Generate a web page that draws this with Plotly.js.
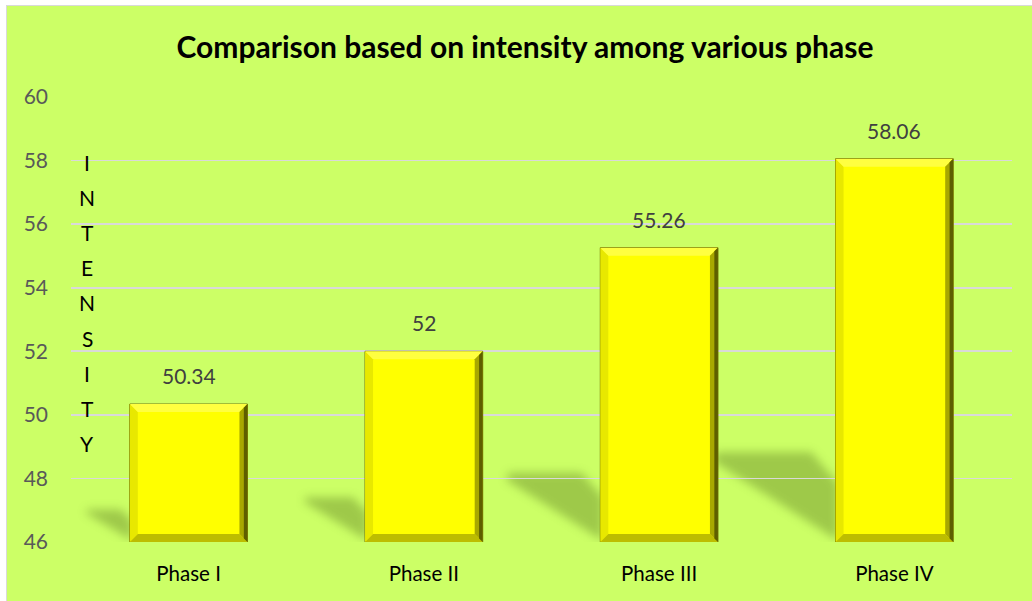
<!DOCTYPE html>
<html>
<head>
<meta charset="utf-8">
<script src="https://cdn.plot.ly/plotly-3.0.1.min.js"></script>
<style>
  html, body { margin: 0; padding: 0; background: #ffffff; }
  #frame { position: absolute; left: 6px; top: 5px; width: 1026px; height: 596px;
           border-left: 1px solid #d9d9d9; border-top: 1px solid #d9d9d9; }
  #chart { width: 1025px; height: 595px; }
</style>
</head>
<body>
<div id="frame"><div id="chart"></div></div>
<script>
// ---- data ----
const categories = ["Phase I", "Phase II", "Phase III", "Phase IV"];
const intensity = [50.34, 52, 55.26, 58.06];
const labels = ["50.34", "52", "55.26", "58.06"];
const yTicks = [46, 48, 50, 52, 54, 56, 58, 60];
const titleText = "Comparison based on intensity among various phase";
const yTitleLetters = ["I", "N", "T", "E", "N", "S", "I", "T", "Y"];

// ---- layout geometry ----
const FONT = "Lato, 'Liberation Sans', sans-serif";
const W = 1025, H = 595;
const M = { l: 64, r: 20, t: 91, b: 59 };
const plotW = W - M.l - M.r, plotH = H - M.t - M.b;
const yMin = 46, yMax = 60;
const pxPerY = plotH / (yMax - yMin);
const pxPerX = plotW / categories.length;
const halfBar = 0.25;

const shapes = [];
// shadows behind bars (derived from the bar values), blurred after drawing
intensity.forEach((v, i) => {
  const h = v - yMin;
  const x0 = i - halfBar;
  const dx = 0.32 * h * pxPerY / pxPerX;
  const dy = 0.235 * h;
  const path = `M ${x0 + 0.01} ${yMin + 0.05} L ${x0 - dx} ${yMin + dy * 0.9} L ${x0 - dx * 0.97} ${yMin + dy} ` +
               `L ${x0 - dx * 0.2} ${yMin + dy} L ${x0 + 0.01} ${yMin + dy * 0.65} Z`;
  shapes.push({ type: "path", xref: "x", yref: "y", path: path, layer: "below", name: "shadow",
                fillcolor: "rgba(40,60,0,0.28)", line: { width: 0 } });
});
// bevel edges on bars
const bx = 8 / pxPerX, by = 8 / pxPerY;
intensity.forEach((v, i) => {
  const x0 = i - halfBar, x1 = i + halfBar, b = yMin;
  const mk = (p, c) => shapes.push({ type: "path", xref: "x", yref: "y", path: p, layer: "above",
                                     fillcolor: c, line: { width: 0 } });
  mk(`M ${x0} ${b} L ${x0} ${v} L ${x0 + bx} ${v - by} L ${x0 + bx} ${b + by} Z`, "#e8e800");
  mk(`M ${x0} ${v} L ${x1} ${v} L ${x1 - bx} ${v - by} L ${x0 + bx} ${v - by} Z`, "#ffff40");
  mk(`M ${x0} ${b} L ${x1} ${b} L ${x1 - bx} ${b + by} L ${x0 + bx} ${b + by} Z`, "#bdbd00");
  mk(`M ${x1} ${b} L ${x1} ${v} L ${x1 - bx} ${v - by} L ${x1 - bx} ${b + by} Z`, "#a8a800");
  const bx2 = bx * 0.45;
  mk(`M ${x1} ${b} L ${x1} ${v} L ${x1 - bx2} ${v - by * 0.45} L ${x1 - bx2} ${b + by * 0.45} Z`, "#5e5e00");
});

const annotations = [];
// vertical y-axis title letters
yTitleLetters.forEach((ch, k) => {
  const pageY = 162 + k * 35.2;            // page pixel of letter centre
  annotations.push({ text: ch, xref: "paper", yref: "paper", x: (87 - 71) / plotW, y: (542 - pageY) / plotH,
           xanchor: "center", yanchor: "middle", showarrow: false,
           font: { family: FONT, size: 21, color: "#000000" } });
});
// data labels above bars
intensity.forEach((v, i) => {
  annotations.push({ text: labels[i], x: i, y: v, xref: "x", yref: "y", xanchor: "center", yanchor: "bottom",
                     yshift: 14, showarrow: false, font: { family: FONT, size: 21, color: "#404040" } });
});

const trace = {
  type: "bar",
  x: categories.map((_, i) => i),
  y: intensity,
  base: 0,
  marker: { color: "#ffff00", line: { color: "#6d6d00", width: 1 } },
  hoverinfo: "skip"
};

const layout = {
  width: W, height: H,
  margin: M,
  paper_bgcolor: "#ccff66",
  plot_bgcolor: "rgba(0,0,0,0)",
  bargap: 0.5,
  showlegend: false,
  title: { text: "<b>" + titleText + "</b>", x: (525 - 7) / W, xref: "container", xanchor: "center",
           y: 1 - 41 / H, yref: "container", yanchor: "middle",
           font: { family: FONT, size: 30, color: "#000000" } },
  xaxis: {
    tickmode: "array", tickvals: categories.map((_, i) => i), ticktext: categories,
    range: [-0.5, categories.length - 0.5],
    showgrid: false, zeroline: false, showline: false, ticks: "",
    ticklabelstandoff: 17,
    tickfont: { family: FONT, size: 20.5, color: "#000000" }
  },
  yaxis: {
    range: [yMin, yMax], tickvals: yTicks, ticktext: yTicks.map(String),
    showgrid: true, gridcolor: "#d9d9d9", gridwidth: 1.6,
    zeroline: false, showline: false, ticks: "",
    ticklabelstandoff: 22,
    tickfont: { family: FONT, size: 21, color: "#595959" }
  },
  shapes: shapes,
  annotations: annotations
};

Plotly.newPlot("chart", [trace], layout, { displayModeBar: false, staticPlot: true }).then(gd => {
  const svg = gd.querySelector(".main-svg");
  const NS = "http://www.w3.org/2000/svg";
  let defs = svg.querySelector("defs");
  if (!defs) { defs = document.createElementNS(NS, "defs"); svg.insertBefore(defs, svg.firstChild); }
  const f = document.createElementNS(NS, "filter");
  f.setAttribute("id", "shadowblur");
  f.setAttribute("filterUnits", "userSpaceOnUse");
  f.setAttribute("x", "0"); f.setAttribute("y", "0");
  f.setAttribute("width", String(W)); f.setAttribute("height", String(H));
  const g = document.createElementNS(NS, "feGaussianBlur");
  g.setAttribute("stdDeviation", "5");
  f.appendChild(g); defs.appendChild(f);
  gd.querySelectorAll("path[data-index]").forEach(p => {
    const idx = +p.getAttribute("data-index");
    if (idx < intensity.length) {
      p.setAttribute("filter", "url(#shadowblur)");
      p.style.filter = "blur(5px)";
    }
  });
});
</script>
</body>
</html>
